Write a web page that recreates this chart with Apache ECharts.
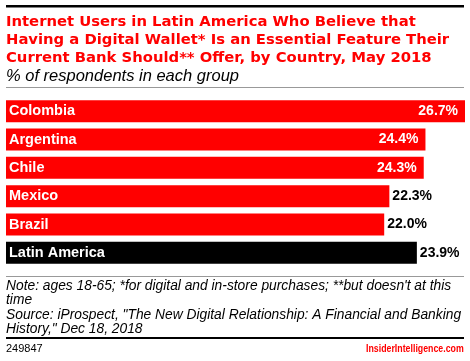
<!DOCTYPE html>
<html><head><meta charset="utf-8">
<script src="https://cdn.jsdelivr.net/npm/echarts@6/dist/echarts.min.js"></script>
<style>html,body{margin:0;padding:0;background:#fff}#c{width:470px;height:361px}</style>
</head><body><div id="c"></div>
<script>
const categories = ["Colombia", "Argentina", "Chile", "Mexico", "Brazil", "Latin America"];
const values = [26.7, 24.4, 24.3, 22.3, 22.0, 23.9];
const labelInside = [true, true, true, false, false, false];
const barColors = ["#ff0000", "#ff0000", "#ff0000", "#ff0000", "#ff0000", "#000000"];

const chart = echarts.init(document.getElementById('c'), null, {renderer: 'canvas'});
const F = '"Liberation Sans", Arial, sans-serif';
const FT = '"DejaVu Sans", sans-serif';
chart.setOption({
  animation: false,
  grid: {left: 6, top: 97, width: 459, height: 170},
  xAxis: {type: 'value', min: 0, max: 26.7, show: false},
  yAxis: {
    type: 'category', data: categories, inverse: true, z: 10,
    axisLine: {show: false}, axisTick: {show: false},
    axisLabel: {inside: true, margin: 3, color: '#fff', fontFamily: F, fontWeight: 'bold', fontSize: 14.5}
  },
  series: [{
    type: 'bar', barWidth: 22,
    data: values.map((v, i) => ({
      value: v,
      itemStyle: {color: barColors[i]},
      label: labelInside[i]
        ? {show: true, position: 'insideRight', distance: 7, color: '#fff'}
        : {show: true, position: 'right', distance: 3, color: '#000'}
    })),
    label: {fontFamily: F, fontWeight: 'bold', fontSize: 14, formatter: p => p.value.toFixed(1) + '%'}
  }],
  graphic: [
    {type: 'rect', shape: {x: 6, y: 5, width: 458, height: 2.5}, style: {fill: '#000'}},
    {type: 'text', left: 6, top: 13, style: {text: 'Internet Users in Latin America Who Believe that\nHaving a Digital Wallet* Is an Essential Feature Their\nCurrent Bank Should** Offer, by Country, May 2018', fill: '#ff0000', font: 'bold 14.8px ' + FT, lineHeight: 18}},
    {type: 'text', left: 6, top: 68, style: {text: '% of respondents in each group', fill: '#000', font: 'italic 16.5px ' + F}},
    {type: 'rect', shape: {x: 6, y: 87, width: 458, height: 1}, style: {fill: '#999'}},
    {type: 'rect', shape: {x: 6, y: 276, width: 458, height: 1}, style: {fill: '#999'}},
    {type: 'text', left: 6, top: 279, style: {text: "Note: ages 18-65; *for digital and in-store purchases; **but doesn't at this\ntime\nSource: iProspect, \"The New Digital Relationship: A Financial and Banking\nHistory,\" Dec 18, 2018", fill: '#000', font: 'italic 13.8px ' + F, lineHeight: 14.3}},
    {type: 'rect', shape: {x: 6, y: 337, width: 458, height: 2}, style: {fill: '#000'}},
    {type: 'text', left: 6, top: 343, style: {text: '249847', fill: '#000', font: '11px ' + F}},
    {type: 'text', x: 366, y: 343, scaleX: 0.8, style: {text: 'InsiderIntelligence.com', fill: '#ff0000', font: 'bold 11px ' + F}}
  ]
});
</script></body></html>
